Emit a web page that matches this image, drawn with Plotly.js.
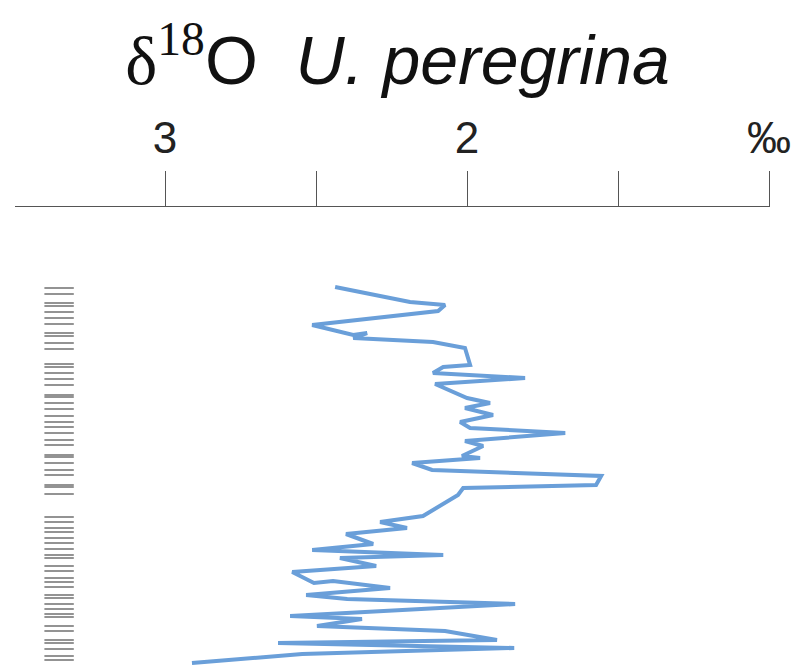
<!DOCTYPE html>
<html>
<head>
<meta charset="utf-8">
<script src="https://cdn.plot.ly/plotly-3.0.1.min.js"></script>
<style>html,body{margin:0;padding:0;background:#fff;}#chart{width:795px;height:665px;}</style>
</head>
<body>
<div id="chart"></div>
<script>
// δ18O of U. peregrina (‰) versus depth (arbitrary depth units, increasing downward)
const d18O = [2.437, 2.189, 2.073, 2.096, 2.513, 2.377, 2.331, 2.377, 2.113, 2.007,
  1.990, 2.079, 2.113, 1.808, 2.106, 2.000, 1.924, 2.007, 1.914, 2.023,
  1.990, 1.675, 2.007, 1.947, 2.017, 1.957, 2.182, 2.116, 1.556, 1.573,
  2.013, 2.030, 2.146, 2.288, 2.199, 2.401, 2.311, 2.513, 2.079, 2.421,
  2.301, 2.579, 2.507, 2.444, 2.255, 2.533, 2.397, 1.841, 2.586, 2.348,
  2.497, 2.073, 1.901, 2.626, 1.844, 2.546, 2.911];
const depth = [80, 95, 98, 104, 118, 128, 126, 131, 135, 141,
  158, 160, 166, 171, 177, 191, 196, 201, 208, 215,
  221, 226, 234, 239, 249, 251, 256, 263, 269, 278,
  281, 288, 309, 315, 321, 327, 337, 343, 348, 351,
  359, 365, 376, 374, 381, 388, 392, 397, 409, 412,
  419, 424, 433, 436, 441, 447, 456];
// sample depths (tick marks on the left)
const sampleDepth = [81, 87, 96, 99, 105, 111, 117, 126, 129, 136, 142, 157, 160, 166, 172,
  178, 188, 190, 196, 202, 209, 215, 220, 226, 233, 238, 248, 250, 256, 263, 268, 278, 280,
  287, 310, 315, 321, 325, 331, 336, 342, 348, 351, 359, 364, 371, 375, 380, 388, 391, 397,
  402, 407, 410, 419, 424, 433, 436, 442, 449, 453];
const sampleColumnX = 3.351;
const tickVals = [3.5, 3, 2.5, 2, 1.5, 1];
const tickText = ['', '3', '', '2', '', '‰'];

const traces = [
  {
    type: 'scatter', mode: 'markers',
    x: sampleDepth.map(() => sampleColumnX), y: sampleDepth,
    marker: {symbol: 'line-ew', size: 21, color: '#6f6f6f', line: {color: '#6f6f6f', width: 1.5}},
    hoverinfo: 'skip', cliponaxis: false
  },
  {
    type: 'scatter', mode: 'lines',
    x: d18O, y: depth,
    line: {color: '#6a9fd9', width: 4},
    cliponaxis: false
  }
];

const layout = {
  width: 795, height: 665,
  margin: {l: 15, r: 25, t: 207, b: 0},
  paper_bgcolor: '#fff', plot_bgcolor: '#fff',
  showlegend: false,
  title: {
    text: '<span style="font-family:Liberation Serif">δ<sup>18</sup></span>O  <i>U. peregrina</i>',
    font: {family: 'Liberation Sans, Arial, sans-serif', size: 68, color: '#111'},
    x: 0.5, xref: 'container', xanchor: 'center',
    y: 0.91, yref: 'container', yanchor: 'middle'
  },
  xaxis: {
    side: 'top', range: [3.497, 0.997],
    tickmode: 'array', tickvals: tickVals, ticktext: tickText,
    ticks: 'outside', ticklen: 35, tickwidth: 1, tickcolor: '#555',
    showline: true, linecolor: '#555', linewidth: 1,
    showgrid: false, zeroline: false,
    tickfont: {family: 'Liberation Sans, Arial, sans-serif', size: 44, color: '#222'},
    ticklabelstandoff: 0
  },
  yaxis: {range: [458, 0], visible: false, showgrid: false, zeroline: false}
};

Plotly.newPlot('chart', traces, layout, {staticPlot: true, displayModeBar: false});
</script>
</body>
</html>
